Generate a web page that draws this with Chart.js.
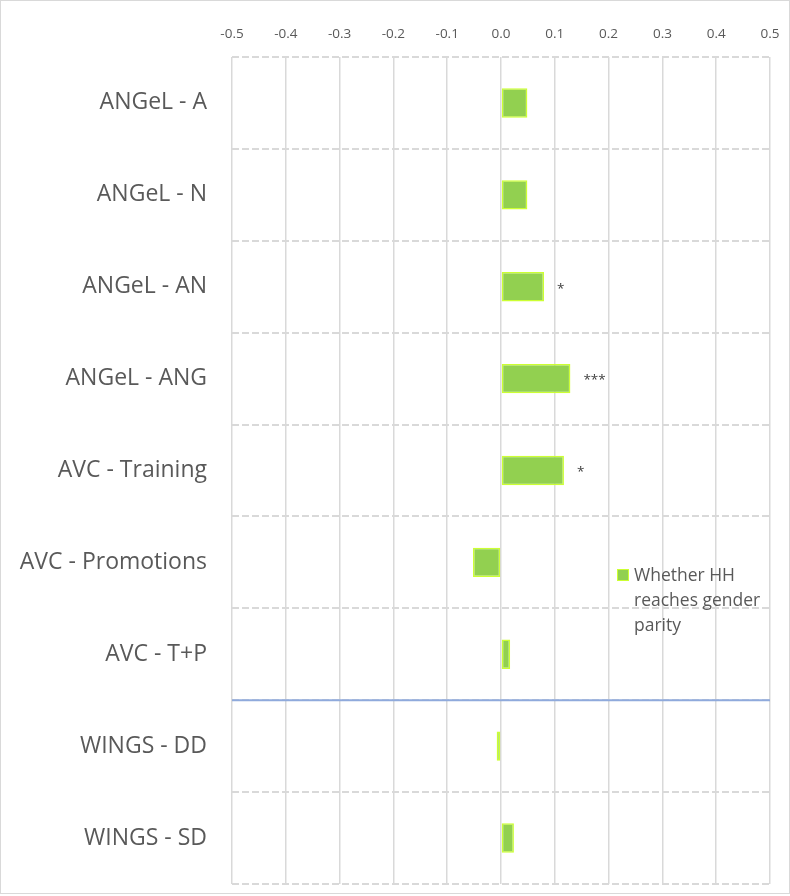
<!DOCTYPE html>
<html>
<head>
<meta charset="utf-8">
<script src="https://cdn.jsdelivr.net/npm/chart.js@4.4.1/dist/chart.umd.min.js"></script>
<style>
  html, body { margin: 0; padding: 0; background: #ffffff; }
  #wrap { position: relative; width: 790px; height: 896px; }
  #frame { position: absolute; left: 0; top: 0; width: 790px; height: 894px; box-sizing: border-box; border: 1px solid #d9d9d9; pointer-events: none; }
  #legend { position: absolute; left: 617px; top: 562px; font-family: "Open Sans", sans-serif; font-size: 17.5px; line-height: 25px; color: #595959; }
  #legend .box { position: absolute; left: 0; top: 7px; width: 10px; height: 10px; background: #92d050; border: 1.5px solid #ccff33; }
  #legend .txt { margin-left: 17px; }
</style>
</head>
<body>
<div id="wrap">
  <canvas id="c" width="790" height="896"></canvas>
  <div id="frame"></div>
  <div id="legend"><span class="box"></span><div class="txt">Whether HH<br>reaches gender<br>parity</div></div>
</div>
<script>
// ---- data ----
const categories = ["ANGeL - A", "ANGeL - N", "ANGeL - AN", "ANGeL - ANG", "AVC - Training", "AVC - Promotions", "AVC - T+P", "WINGS - DD", "WINGS - SD"];
const seriesName = "Whether HH reaches gender parity";
const values = [0.049, 0.049, 0.080, 0.129, 0.117, -0.052, 0.017, -0.008, 0.024];
const stars = ["", "", "*", "***", "*", "", "", "", ""];
const xTicksMin = -0.5;
const xTicksMax = 0.5;
const xTickStep = 0.1;
const separatorAfter = "AVC - T+P";

const starsPlugin = {
  id: 'stars',
  afterDatasetsDraw(chart) {
    const ctx = chart.ctx;
    const meta = chart.getDatasetMeta(0);
    ctx.save();
    ctx.font = '13.5px "Open Sans", sans-serif';
    ctx.fillStyle = '#404040';
    ctx.textBaseline = 'middle';
    meta.data.forEach((el, i) => {
      if (!stars[i]) return;
      ctx.textAlign = 'left';
      ctx.fillText(stars[i], el.x + 13, el.y + 2);
    });
    ctx.restore();
  }
};

const separatorPlugin = {
  id: 'separator',
  beforeDatasetsDraw(chart) {
    const y = chart.scales.y;
    const idx = categories.indexOf(separatorAfter);
    const py = (y.getPixelForValue(idx) + y.getPixelForValue(idx + 1)) / 2;
    const ctx = chart.ctx;
    ctx.save();
    ctx.strokeStyle = '#8faadc';
    ctx.lineWidth = 2;
    ctx.beginPath();
    ctx.moveTo(chart.chartArea.left, py);
    ctx.lineTo(chart.chartArea.right, py);
    ctx.stroke();
    ctx.restore();
  }
};

new Chart(document.getElementById('c'), {
  type: 'bar',
  data: {
    labels: categories,
    datasets: [{
      label: seriesName,
      data: values,
      backgroundColor: '#92d050',
      borderColor: '#ccff33',
      borderWidth: 1.5,
      borderSkipped: false,
      barPercentage: 0.32,
      categoryPercentage: 1.0
    }]
  },
  options: {
    indexAxis: 'y',
    responsive: false,
    animation: false,
    layout: { padding: { left: 0, right: 20, top: 0, bottom: 12 } },
    plugins: {
      legend: { display: false },
      tooltip: { enabled: false }
    },
    scales: {
      x: {
        type: 'linear',
        position: 'top',
        min: xTicksMin,
        max: xTicksMax,
        afterFit(scale) { scale.height = 57; },
        ticks: {
          stepSize: xTickStep,
          callback: v => Number(v).toFixed(1),
          font: { family: '"Open Sans", sans-serif', size: 13.5 },
          color: '#595959',
          padding: 0,
          maxRotation: 0
        },
        grid: { color: '#d9d9d9', lineWidth: 1.5, drawTicks: true, tickLength: 15, tickColor: 'rgba(0,0,0,0)' },
        border: { display: false }
      },
      y: {
        type: 'category',
        afterFit(scale) { scale.width = 232; },
        ticks: {
          font: { family: '"Open Sans", sans-serif', size: 23, lineHeight: 1.0 },
          color: '#595959',
          padding: 0
        },
        grid: { color: '#d9d9d9', lineWidth: 2, drawTicks: true, tickLength: 25, tickColor: 'rgba(0,0,0,0)', offset: true },
        border: { display: false, dash: [7, 3] }
      }
    }
  },
  plugins: [separatorPlugin, starsPlugin]
});
</script>
</body>
</html>
